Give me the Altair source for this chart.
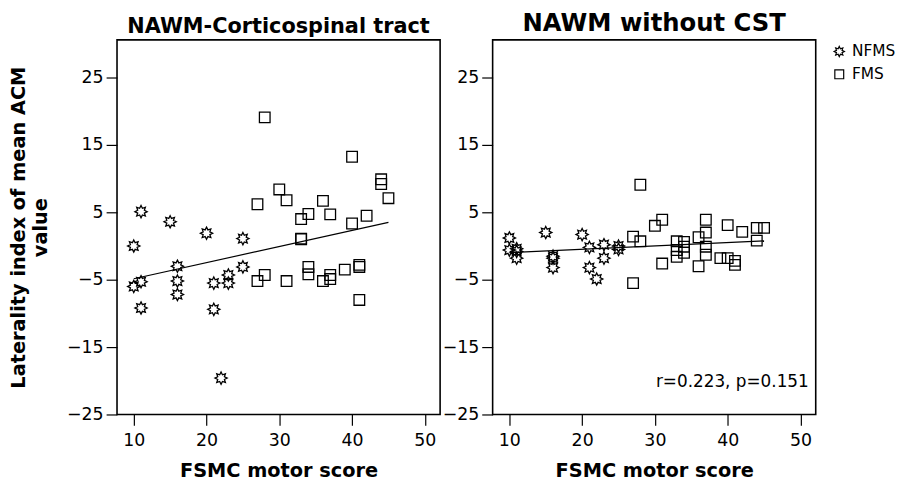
import math
import altair as alt
import pandas as pd

# ---- data ----
# Left panel: NAWM-Corticospinal tract
left_nfms_x = [10, 11, 10, 11, 11, 15, 16, 16, 16, 20, 21, 21, 22, 23, 23, 25, 25]
left_nfms_y = [0.0, 5.1, -6.0, -5.3, -9.2, 3.6, -3.0, -5.2, -7.2, 1.9, -5.5, -9.4, -19.6, -4.3, -5.5, 1.1, -3.1]
left_fms_x = [28, 27, 28, 27, 30, 31, 31, 33, 33, 33, 34, 34, 34, 36, 36, 37, 37, 37, 39, 40, 40, 41, 41, 41, 42, 44, 44, 45]
left_fms_y = [19.1, 6.2, -4.3, -5.2, 8.4, 6.8, -5.2, 4.0, 1.1, 1.0, 4.75, -3.1, -4.2, 6.7, -5.2, 4.7, -4.3, -4.9, -3.5, 13.25, 3.35, -2.8, -3.1, -8.0, 4.5, 9.9, 9.2, 7.1]

# Right panel: NAWM without CST
right_nfms_x = [10, 10, 11, 11, 11, 15, 16, 16, 16, 20, 21, 21, 22, 23, 23, 25, 25]
right_nfms_y = [1.2, -0.6, -0.4, -0.8, -1.8, 2.0, -1.5, -1.8, -3.2, 1.7, -0.2, -3.2, -4.9, 0.2, -1.8, 0.0, -0.5]
right_fms_x = [28, 27, 28, 27, 30, 31, 31, 33, 33, 33, 34, 34, 34, 36, 36, 37, 37, 37, 37, 39, 40, 40, 41, 41, 42, 44, 44, 45]
right_fms_y = [9.1, 1.4, 0.7, -5.5, 3.0, 3.9, -2.6, 0.7, -0.6, -1.6, 0.6, -0.1, -1.0, 1.3, -3.0, 3.9, 2.0, -0.1, -1.3, -1.8, 3.1, -1.8, -2.2, -2.8, 2.1, 2.7, 0.8, 2.7]

groups = ["NFMS", "FMS"]
titles = ["NAWM-Corticospinal tract", "NAWM without CST"]
x_ticks = [10, 20, 30, 40, 50]
y_ticks = [-25, -15, -5, 5, 15, 25]
annotation = "r=0.223, p=0.151"


def frame(nx, ny, fx, fy):
    return pd.DataFrame({
        "x": nx + fx,
        "y": ny + fy,
        "group": ["NFMS"] * len(nx) + ["FMS"] * len(fx),
    })


left_df = frame(left_nfms_x, left_nfms_y, left_fms_x, left_fms_y)
right_df = frame(right_nfms_x, right_nfms_y, right_fms_x, right_fms_y)

# 8-point star outline for the NFMS symbol (slightly larger than the unit square)
pts = []
for i in range(16):
    r = 1.15 if i % 2 == 0 else 0.68
    a = math.pi * i / 8 - math.pi / 2
    pts.append(f"{r * math.cos(a):.3f},{r * math.sin(a):.3f}")
star = "M" + " L".join(pts) + " Z"

FONT = "DejaVu Sans"
W, H = 326, 378
xscale = alt.Scale(domain=[7.7, 52.1], nice=False, zero=False)
yscale = alt.Scale(domain=[-25, 30.6], nice=False, zero=False)


def panel(df, title, title_size, show_y_title, show_legend, note=None):
    xenc = alt.X("x:Q", scale=xscale,
                 axis=alt.Axis(values=x_ticks, title="FSMC motor score", format="d"))
    yenc = alt.Y("y:Q", scale=yscale,
                 axis=alt.Axis(values=y_ticks,
                               title=["Laterality index of mean ACM", "value"] if show_y_title else None,
                               format="d"))
    pts_layer = alt.Chart(df).mark_point(filled=False, color="black", strokeWidth=1.3, size=115, opacity=1).encode(
        x=xenc,
        y=yenc,
        shape=alt.Shape("group:N",
                        scale=alt.Scale(domain=groups, range=[star, "square"]),
                        legend=alt.Legend(title=" ", titleFontSize=4, titlePadding=0,
                                          orient="right", offset=15,
                                          labelFontSize=15.5, labelFont=FONT, labelColor="black",
                                          symbolStrokeColor="black", symbolFillColor="white",
                                          symbolSize=80, symbolStrokeWidth=1.2,
                                          rowPadding=6, labelOffset=5, padding=0) if show_legend else None),
    )
    line = alt.Chart(df).transform_regression("x", "y").mark_line(color="black", strokeWidth=1.2).encode(
        x=alt.X("x:Q", scale=xscale),
        y=alt.Y("y:Q", scale=yscale),
    )
    layers = [line, pts_layer]
    if note:
        txt = alt.Chart(pd.DataFrame({"t": [note]})).mark_text(
            align="right", baseline="middle", fontSize=17, font=FONT, color="black"
        ).encode(text="t:N", x=alt.value(W - 7), y=alt.value(H - 33))
        layers.append(txt)
    return alt.layer(*layers).properties(
        width=W, height=H,
        title=alt.TitleParams(title, fontSize=title_size, font=FONT, fontWeight="bold",
                              anchor="middle", offset=3),
    )


left = panel(left_df, titles[0], 21, True, True)
right = panel(right_df, titles[1], 24.5, False, True, annotation)

chart = alt.hconcat(left, right, spacing=0).resolve_scale(shape="shared").properties(
    padding=0
).configure_view(
    stroke="black", strokeWidth=1.6
).configure_axis(
    domain=False, grid=False, tickColor="black", tickSize=11, tickWidth=1.2,
    labelFont=FONT, labelFontSize=17.5, labelColor="black",
    titleFont=FONT, titleFontSize=19.5, titleFontWeight="bold", titleColor="black",
).configure_axisX(titlePadding=13, labelPadding=6).configure_axisY(
    titlePadding=16, titleLineHeight=22, labelPadding=3)

chart.save("out.html", embed_options={"renderer": "svg", "actions": False})
